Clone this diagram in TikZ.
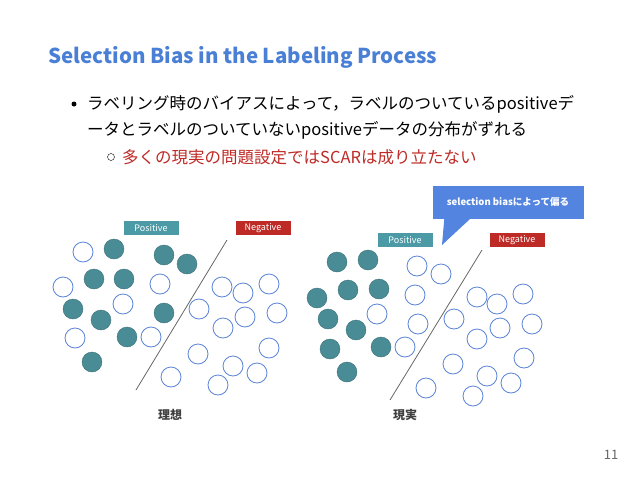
\documentclass[tikz,border=0pt]{standalone}
\usepackage{fontspec}
\setmainfont{Noto Sans CJK JP}
\usetikzlibrary{positioning}
\definecolor{titleblue}{HTML}{4A7FD6}
\definecolor{dotteal}{HTML}{4A8C96}
\definecolor{ringblue}{HTML}{5B84D6}
\definecolor{poslabel}{HTML}{4B9AA5}
\definecolor{neglabel}{HTML}{BE2A26}
\definecolor{calloutblue}{HTML}{5385E0}
\begin{document}
\begin{tikzpicture}[x=1pt, y=-1pt,
fullnode/.style={circle, fill=dotteal, draw=dotteal!80!black, minimum size=20pt, inner sep=0pt},
ringnode/.style={circle, draw=ringblue, thick, fill=white, minimum size=20pt, inner sep=0pt},
tagnode/.style={text=white, font=\fontsize{9}{10}\selectfont, minimum width=55pt, minimum height=14pt, inner sep=0pt},
bodytext/.style={anchor=west, font=\fontsize{16.5}{18}\selectfont, inner sep=0pt}
]
\useasboundingbox (0,0) rectangle (638,480);

\node[anchor=west, text=titleblue, font=\fontsize{20.5}{22}\selectfont\bfseries, inner sep=0pt] (title) at (48,57) {Selection Bias in the Labeling Process};
\fill (74,104) circle (2.5pt);
\node[bodytext] (line1) at (87,104) {ラベリング時のバイアスによって，ラベルのついているpositiveデ};
\node[bodytext] (line2) at (87,130) {ータとラベルのついていないpositiveデータの分布がずれる};
\draw (111,157) circle (3.5pt);
\node[bodytext, text=neglabel] (line3) at (122,157) {多くの現実の問題設定ではSCARは成り立たない};

% ideal
\node[tagnode, fill=poslabel] (pos1) at (151,228) {Positive};
\node[tagnode, fill=neglabel] (neg1) at (263,228) {Negative};
\coordinate (cut1a) at (227,240);
\coordinate (cut1b) at (136,390);
\draw[gray!80!black, thick] (cut1a) -- (cut1b);
\foreach \x/\y [count=\i] in {114/249,164/255,187/264,94/279,124/279,73/309,164/313,101/320,127/337,92/362}
  \node[fullnode] (ip\i) at (\x,\y) {};
\foreach \x/\y [count=\i] in {83/252,63/287,160/284,123/304,75/338,151/337,199/309,222/287,243/293,269/284,245/317,223/328,277/313,198/354,269/348,233/366,257/373,218/385,171/377}
  \node[ringnode] (iu\i) at (\x,\y) {};
\node[font=\fontsize{12}{13}\selectfont\bfseries, text=black!75] (ideal) at (170,415) {理想};

% real
\node[tagnode, fill=poslabel] (pos2) at (405,240) {Positive};
\node[tagnode, fill=neglabel] (neg2) at (517,240) {Negative};
\coordinate (cut2a) at (482,250);
\coordinate (cut2b) at (390,400);
\draw[gray!80!black, thick] (cut2a) -- (cut2b);
\foreach \x/\y [count=\i] in {337/262,368/260,348/290,379/289,317/298,328/319,356/330,330/349,381/347,347/372}
  \node[fullnode] (rp\i) at (\x,\y) {};
\foreach \x/\y [count=\i] in {417/266,441/274,415/295,377/314,418/324,405/347,454/319,477/297,497/304,523/294,500/328,477/339,532/324,453/364,524/358,487/376,511/383,473/396,426/388}
  \node[ringnode] (ru\i) at (\x,\y) {};
\node[font=\fontsize{12}{13}\selectfont\bfseries, text=black!75] (real) at (405,415) {現実};

% callout
\node[fill=calloutblue, text=white, font=\fontsize{9.5}{11}\selectfont\bfseries, minimum width=151pt, minimum height=33pt, inner sep=0pt] (callout) at (508,202) {selection biasによって偏る};
\coordinate (tip) at (442,245);
\fill[calloutblue] ([xshift=12pt]callout.south west) -- (tip) -- ([xshift=38pt]callout.south west) -- cycle;

\node[text=black!60, font=\fontsize{13}{14}\selectfont] (page) at (611,455) {11};
\end{tikzpicture}
\end{document}
